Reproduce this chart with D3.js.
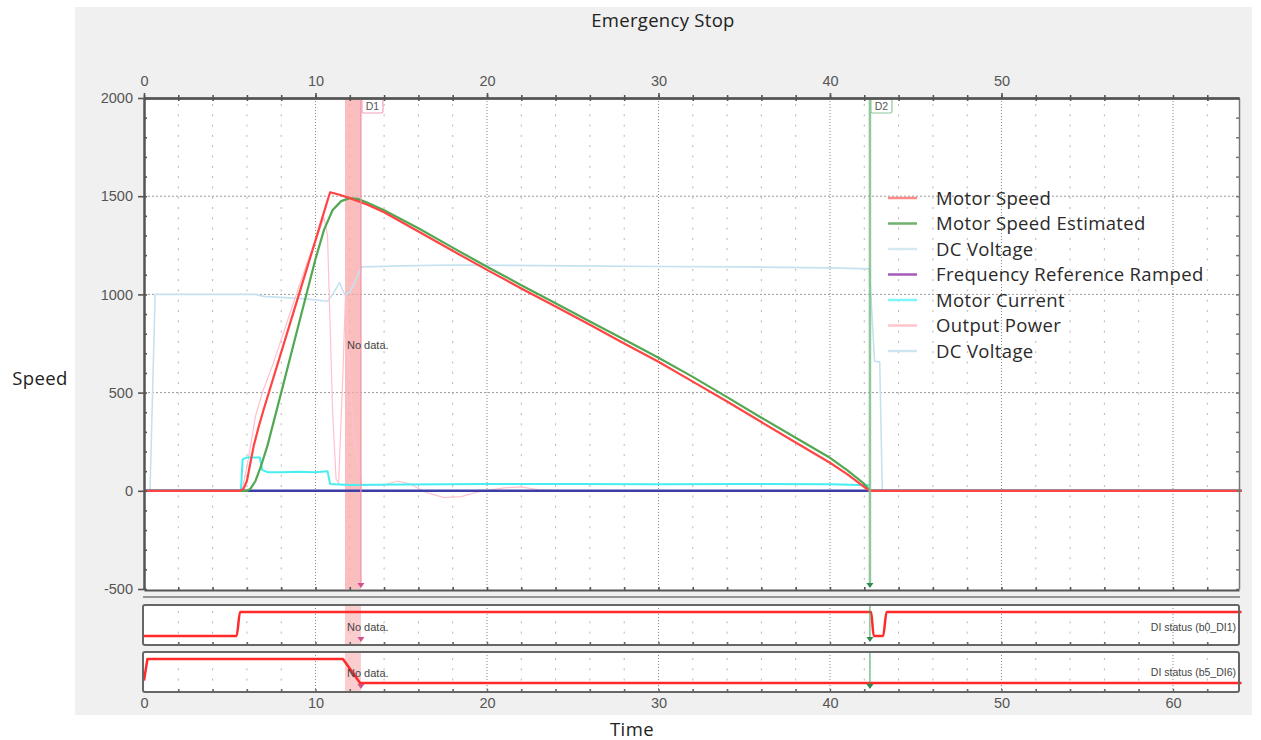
<!DOCTYPE html>
<html>
<head>
<meta charset="utf-8">
<script src="https://cdn.jsdelivr.net/npm/d3@7"></script>
<style>
  body { margin: 0; background: #fff; }
  svg { display: block; }
  .tick text { font-family: "Liberation Sans", Arial, sans-serif; font-size: 14.5px; fill: #555; }
</style>
</head>
<body>
<svg id="chart"></svg>
<script>
var W = 1261, H = 740;

// ---- data (time in s, value) ----
var motorSpeed = [[0,0],[5.6,0],[5.8,10],[6.0,50],[6.2,140],[6.4,230],[6.7,330],[7.0,420],[8,705],[9,990],[10,1275],[10.5,1420],[10.85,1520],[11.3,1510],[12,1490],[13,1458],[14,1418],[16,1320],[18,1222],[20,1125],[22,1030],[24,938],[26,845],[28,750],[30,657],[32,556],[34,455],[36,350],[38,246],[40,143],[41,85],[42.3,0],[64,0]];
var motorSpeedEst = [[0,0],[6.0,0],[6.2,10],[6.5,50],[6.8,120],[7.2,230],[8,500],[9,840],[10,1180],[10.5,1330],[11,1430],[11.5,1475],[12,1490],[12.5,1485],[13,1468],[14,1428],[16,1337],[18,1238],[20,1141],[22,1047],[24,955],[26,862],[28,770],[30,677],[32,580],[34,477],[36,372],[38,270],[40,168],[41,105],[42,35],[42.33,0],[64,0]];
var dcVoltage = [[0,0],[0.35,0],[0.65,1000],[6.5,1000],[7,990],[8,985],[9,980],[10,972],[10.7,965],[11.0,1000],[11.4,1060],[11.7,1000],[12.0,1010],[12.7,1140],[15,1145],[18,1150],[21,1148],[25,1145],[30,1142],[35,1140],[40,1135],[42.3,1130],[42.6,660],[42.9,655],[43.05,0],[44.6,0]];
var freqRefRamped = [[0,0],[64,0]];
var motorCurrent = [[0,0],[5.65,0],[5.75,160],[6.0,170],[6.75,170],[6.9,105],[7.2,95],[8,95],[9,97],[10,95],[10.7,100],[10.85,35],[12,30],[15,32],[20,34],[25,35],[30,33],[35,35],[40,33],[42.3,28]];
var outputPower = [[0,0],[5.7,0],[6.0,120],[6.5,380],[6.9,500],[7.5,640],[8.5,900],[9.5,1160],[10.5,1390],[10.7,1300],[11.0,400],[11.2,60],[11.35,40],[11.6,600],[11.75,1000],[12.2,300],[12.7,30],[14,30],[14.8,50],[15.5,35],[16.5,-10],[17.5,-35],[18.5,-30],[19.5,-5],[21,15],[22,20],[23,5],[25,0],[42.3,0]];
var di1 = [[0,0],[5.4,0],[5.6,1],[42.4,1],[42.55,0],[43.1,0],[43.3,1],[64,1]];
var di6 = [[0,0.1],[0.2,1],[11.6,1],[12.6,0],[64,0]];

var legendNames = ["Motor Speed","Motor Speed Estimated","DC Voltage","Frequency Reference Ramped","Motor Current","Output Power","DC Voltage"];
var legendColors = ["#ff8a8a","#6fb26f","#d5e9f3","#a35ab8","#7ff7f7","#ffc4cc","#cfe6f2"];

var cursorD1 = [11.72, 12.65];
var cursorD2 = 42.33;

var yTicks = [-500,0,500,1000,1500,2000];
var xTicksTop = [0,10,20,30,40,50];
var xTicksBottom = [0,10,20,30,40,50,60];

// ---- layout ----
var L = 144, R = 1239, T = 98, B = 589;
var sub1 = [605, 645], sub2 = [652, 692];

var x = d3.scaleLinear().domain([0, 63.85]).range([L, R]);
var y = d3.scaleLinear().domain([-500, 2000]).range([B, T]);
var ys1 = d3.scaleLinear().domain([-0.375, 1.29]).range([sub1[1], sub1[0]]);
var ys2 = d3.scaleLinear().domain([-0.375, 1.29]).range([sub2[1], sub2[0]]);
var plain = d => String(d);

var svg = d3.select("#chart").attr("width", W).attr("height", H);

svg.append("rect").attr("x", 75).attr("y", 7).attr("width", 1177).attr("height", 708).attr("fill", "#f0f0f0");

function label(px, py, txt, size, spacing) {
  svg.append("text").attr("x", px).attr("y", py).attr("text-anchor", "middle")
    .style("font-family", "'Open Sans', sans-serif").style("font-size", size + "px")
    .style("letter-spacing", spacing + "px").attr("fill", "#222").text(txt);
}
label(663, 27, "Emergency Stop", 18.5, 0.3);
label(40, 385, "Speed", 18.5, 0.4);
label(632, 736, "Time", 18.5, 0.4);

// plot backgrounds
svg.append("rect").attr("x", L).attr("y", T).attr("width", R - L).attr("height", B - T + 1).attr("fill", "#fff");
[sub1, sub2].forEach(function (s) {
  svg.append("rect").attr("x", L - 1).attr("y", s[0]).attr("width", R - L + 1).attr("height", s[1] - s[0])
    .attr("rx", 2).attr("fill", "#fff");
});

var minorX = d3.range(2, 64, 2).filter(function (t) { return t % 10 !== 0; });
var majorX = d3.range(10, 64, 10);

// grid for a panel
function grid(top, bottom, hLines, yScale) {
  var g = svg.append("g");
  g.selectAll(".mn").data(minorX).enter().append("line")
    .attr("x1", d => x(d)).attr("x2", d => x(d)).attr("y1", top + 6).attr("y2", bottom)
    .attr("stroke", "#b5b5b5").attr("stroke-dasharray", "2,8.3");
  g.selectAll(".mj").data(majorX).enter().append("line")
    .attr("x1", d => x(d)).attr("x2", d => x(d)).attr("y1", top).attr("y2", bottom)
    .attr("stroke", "#888").attr("stroke-dasharray", "1,2");
  if (hLines) {
    g.selectAll(".h").data(hLines).enter().append("line")
      .attr("x1", L).attr("x2", R).attr("y1", d => yScale(d)).attr("y2", d => yScale(d))
      .attr("stroke", "#999").attr("stroke-dasharray", "2,2");
  }
}
grid(T, B, [500, 1000, 1500], y);
grid(sub1[0], sub1[1], null, null);
grid(sub2[0], sub2[1], null, null);

// D1 band
svg.append("rect").attr("x", x(cursorD1[0])).attr("y", T).attr("width", x(cursorD1[1]) - x(cursorD1[0]))
  .attr("height", B - T).attr("fill", "#f8a8aa").attr("opacity", 0.75);
[sub1, sub2].forEach(function (s) {
  svg.append("rect").attr("x", x(cursorD1[0])).attr("y", s[0]).attr("width", x(cursorD1[1]) - x(cursorD1[0]))
    .attr("height", s[1] - s[0]).attr("fill", "#f8b8ba").attr("opacity", 0.7);
});

// series
var line = d3.line().x(d => x(d[0])).y(d => y(d[1]));
function path(data, color, width, scaleLine) {
  svg.append("path").datum(data).attr("d", scaleLine || line).attr("fill", "none")
    .attr("stroke", color).attr("stroke-width", width).attr("stroke-linejoin", "round");
}
path(dcVoltage, "#c6e2f0", 1.6);
path(outputPower, "#ffc0cc", 1.2);
path(motorCurrent, "#46eef2", 2);
path(freqRefRamped, "#3d3da6", 2.5);
path(motorSpeedEst, "#52a852", 2.2);
path(motorSpeed, "#ff4444", 2.2);

var l1 = d3.line().x(d => x(d[0])).y(d => ys1(d[1])).curve(d3.curveMonotoneX);
var l2 = d3.line().x(d => x(d[0])).y(d => ys2(d[1]));
path(di1, "#ff2a2a", 2.5, l1);
path(di6, "#ff2a2a", 2.5, l2);

// D2 line
svg.append("line").attr("x1", x(cursorD2)).attr("x2", x(cursorD2)).attr("y1", T).attr("y2", B - 4)
  .attr("stroke", "#7cc08a").attr("stroke-width", 2.5).attr("opacity", 0.85);
[sub1, sub2].forEach(function (s) {
  svg.append("line").attr("x1", x(cursorD2)).attr("x2", x(cursorD2)).attr("y1", s[0]).attr("y2", s[1] - 4)
    .attr("stroke", "#3aa05a").attr("stroke-width", 1);
});
// D1 edge line
svg.append("line").attr("x1", x(cursorD1[1])).attr("x2", x(cursorD1[1])).attr("y1", T).attr("y2", B - 4)
  .attr("stroke", "#f090a8").attr("stroke-width", 1.2);

// arrows
function arrow(px, py, color) {
  svg.append("path").attr("d", "M" + (px - 3.5) + "," + (py - 5) + "L" + (px + 3.5) + "," + (py - 5) + "L" + px + "," + py + "Z")
    .attr("fill", color);
}
[B - 1, sub1[1] - 3, sub2[1] - 3].forEach(function (py) {
  arrow(x(cursorD1[1]), py, "#d2508a");
  arrow(x(cursorD2), py, "#2e8a4a");
});

// cursor labels
function tag(px, txt, color) {
  svg.append("rect").attr("x", px + 1).attr("y", T + 1).attr("width", 21).attr("height", 14)
    .attr("fill", "#fff").attr("stroke", color).attr("stroke-width", 1.2).attr("rx", 1.5);
  svg.append("text").attr("x", px + 11.5).attr("y", T + 12).attr("text-anchor", "middle")
    .style("font-family", "'Liberation Sans', Arial, sans-serif").style("font-size", "10.5px").attr("fill", "#555").text(txt);
}
tag(x(cursorD1[1]), "D1", "#f0a0c0");
tag(x(cursorD2), "D2", "#8cc89a");

// No data labels
[[345, "No data."], [627, "No data."], [673, "No data."]].forEach(function (d) {
  svg.append("text").attr("x", x(cursorD1[0]) + 2).attr("y", d[0] + 4)
    .style("font-family", "'Liberation Sans', Arial, sans-serif").style("font-size", "11px").attr("fill", "#444").text(d[1]);
});

// subplot labels
[["DI status (b0_DI1)", 631], ["DI status (b5_DI6)", 676]].forEach(function (d) {
  svg.append("text").attr("x", R - 3).attr("y", d[1]).attr("text-anchor", "end")
    .style("font-family", "'Liberation Sans', Arial, sans-serif").style("font-size", "10.5px").attr("fill", "#444").text(d[0]);
});

// axes and frames
var axisColor = "#555";
function styleAxis(g) {
  g.selectAll(".domain").attr("stroke", axisColor).attr("stroke-width", 2);
  g.selectAll(".tick line").attr("stroke", axisColor).attr("stroke-width", 1.6);
}
// left
svg.append("g").attr("transform", "translate(" + L + ",0)")
  .call(d3.axisRight(y).tickValues(d3.range(-500, 2001, 100)).tickSize(3).tickFormat("").tickSizeOuter(0)).call(styleAxis);
svg.append("g").attr("transform", "translate(" + L + ",0)")
  .call(d3.axisLeft(y).tickValues(yTicks).tickSize(6).tickPadding(5).tickFormat(plain).tickSizeOuter(0)).call(styleAxis);
// right
svg.append("g").attr("transform", "translate(" + R + ",0)")
  .call(d3.axisLeft(y).tickValues(d3.range(-500, 2001, 100)).tickSize(3).tickFormat("").tickSizeOuter(0))
  .call(function (g) {
    g.selectAll(".domain").attr("stroke", "#777").attr("stroke-width", 1.5);
    g.selectAll(".tick line").attr("stroke", "#777").attr("stroke-width", 1.5);
  });
// top
svg.append("g").attr("transform", "translate(0," + T + ")")
  .call(d3.axisBottom(x).tickValues(minorX.concat([62])).tickSize(3).tickFormat("").tickSizeOuter(0)).call(styleAxis);
svg.append("g").attr("transform", "translate(0," + T + ")")
  .call(d3.axisTop(x).tickValues(d3.range(0, 64, 2)).tickSize(3).tickFormat("").tickSizeOuter(0)).call(styleAxis);
svg.append("g").attr("transform", "translate(0," + T + ")")
  .call(d3.axisTop(x).tickValues(xTicksTop).tickSize(5).tickPadding(7).tickFormat(plain).tickSizeOuter(0)).call(styleAxis);
// main bottom
svg.append("g").attr("transform", "translate(0," + (B + 1) + ")")
  .call(d3.axisTop(x).tickValues(d3.range(0, 64, 2)).tickSize(3).tickFormat("").tickSizeOuter(0)).call(styleAxis);
svg.append("line").attr("x1", L - 1).attr("x2", R + 1).attr("y1", 597).attr("y2", 597)
  .attr("stroke", "#777").attr("stroke-width", 1.5);

// subplot frames
[sub1, sub2].forEach(function (s) {
  svg.append("rect").attr("x", L - 1).attr("y", s[0]).attr("width", R - L + 1).attr("height", s[1] - s[0])
    .attr("rx", 2).attr("fill", "none").attr("stroke", "#666").attr("stroke-width", 2);
  svg.append("g").attr("transform", "translate(0," + s[1] + ")")
    .call(d3.axisTop(x).tickValues(d3.range(2, 64, 2)).tickSize(3).tickFormat("").tickSizeOuter(0))
    .call(function (g) {
      g.select(".domain").remove();
      g.selectAll(".tick line").attr("stroke", "#666").attr("stroke-width", 1.5);
    });
});
// bottom labels
svg.append("g").attr("transform", "translate(0," + sub2[1] + ")")
  .call(d3.axisBottom(x).tickValues(xTicksBottom).tickSize(0).tickPadding(6).tickFormat(plain))
  .call(function (g) { g.select(".domain").remove(); });

// legend
var lg = svg.append("g");
legendNames.forEach(function (name, i) {
  var ly = 198 + i * 25.5;
  lg.append("line").attr("x1", 888).attr("x2", 917).attr("y1", ly).attr("y2", ly)
    .attr("stroke", legendColors[i]).attr("stroke-width", 2.5);
  lg.append("text").attr("x", 936).attr("y", ly + 6.5)
    .style("font-family", "'Open Sans', sans-serif").style("font-size", "18.5px")
    .style("letter-spacing", "0.35px").attr("fill", "#2a2a2a").text(name);
});
</script>
</body>
</html>
